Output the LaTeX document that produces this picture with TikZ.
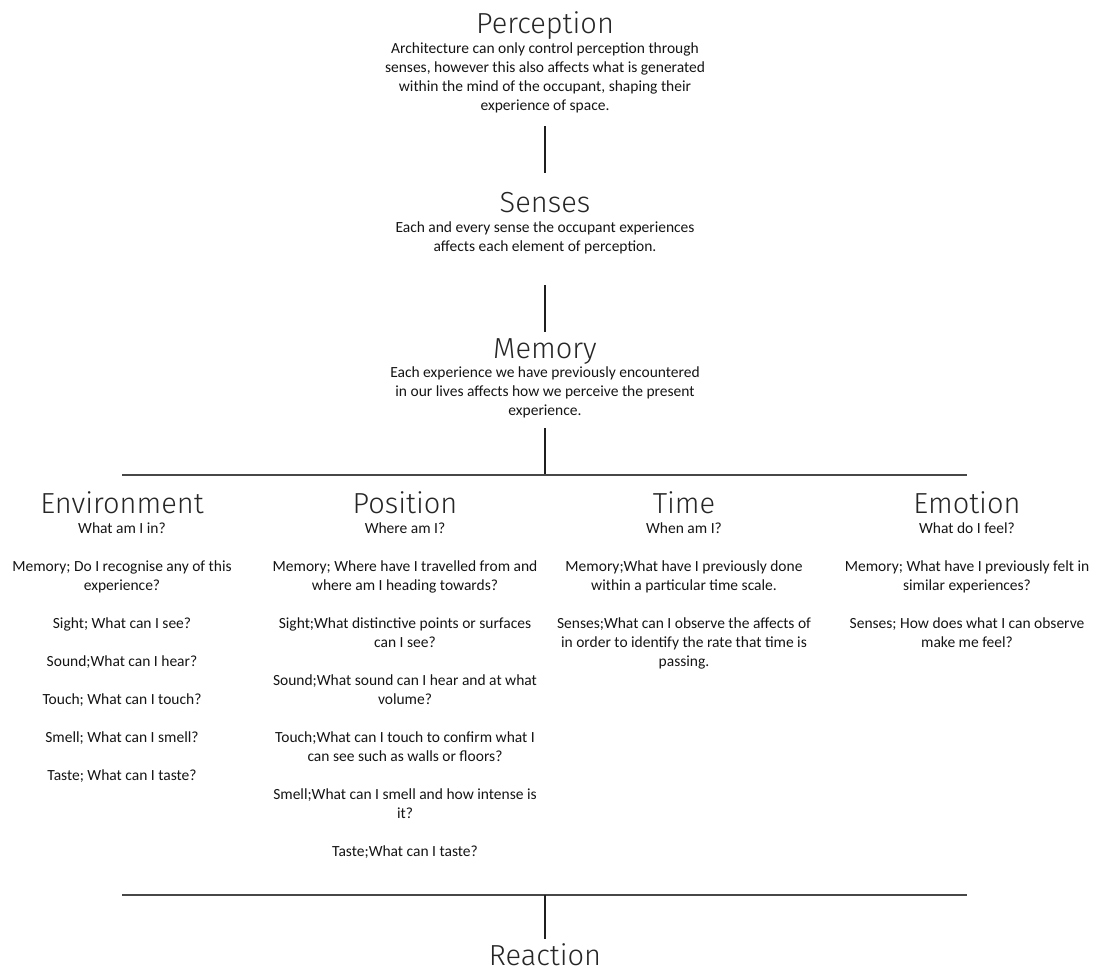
\documentclass[tikz,border=0pt]{standalone}
\usepackage{fontspec}
\setmainfont{Carlito}
\newfontfamily\titlefont{Fira Sans Light}
\begin{document}
\begin{tikzpicture}[x=1pt,y=1pt,
  ttl/.style={font=\titlefont\fontsize{29}{32}\selectfont, text=black!85, anchor=base, inner sep=0pt},
  body/.style={font=\fontsize{15.5}{19}\selectfont, align=center, anchor=north, inner sep=0pt, text=black!92},
  bar/.style={line width=2pt, draw=black!72},
  link/.style={line width=1.3pt, draw=black!88}]
\useasboundingbox (0,0) rectangle (1094,-972);
% top chain
\node[ttl] (perc) at (545,-33) {Perception};
\node[body] (percb) at (545,-39.7) {\strut Architecture can only control perception through\\senses, however this also affects what is generated\\within the mind of the occupant, shaping their\\experience of space.};
\node[ttl] (sens) at (545,-212) {Senses};
\node[body] (sensb) at (545,-218.7) {\strut Each and every sense the occupant experiences\\affects each element of perception.};
\node[ttl] (mem) at (545,-358) {Memory};
\node[body] (memb) at (545,-363.7) {\strut Each experience we have previously encountered\\in our lives affects how we perceive the present\\experience.};
% connectors
\coordinate (v1t) at (545,-126); \coordinate (v1b) at (545,-173);
\coordinate (v2t) at (545,-285); \coordinate (v2b) at (545,-332);
\coordinate (v3t) at (545,-428); \coordinate (v3b) at (545,-475);
\coordinate (barTL) at (122,-475); \coordinate (barTR) at (967,-475);
\coordinate (barBL) at (122,-895); \coordinate (barBR) at (967,-895);
\coordinate (v4t) at (545,-895); \coordinate (v4b) at (545,-939);
\draw[link] (v1t) -- (v1b);
\draw[link] (v2t) -- (v2b);
\draw[link] (v3t) -- (v3b);
\draw[bar] (barTL) -- (barTR);
\draw[bar] (barBL) -- (barBR);
\draw[link] (v4t) -- (v4b);
% columns
\node[ttl] (env) at (122,-513) {Environment};
\node[body] (envb) at (122,-519.7) {\strut What am I in?\\[19pt]Memory; Do I recognise any of this\\experience?\\[19pt]Sight; What can I see?\\[19pt]Sound;What can I hear?\\[19pt]Touch; What can I touch?\\[19pt]Smell; What can I smell?\\[19pt]Taste; What can I taste?};
\node[ttl] (pos) at (405,-513) {Position};
\node[body] (posb) at (405,-519.7) {\strut Where am I?\\[19pt]Memory; Where have I travelled from and\\where am I heading towards?\\[19pt]Sight;What distinctive points or surfaces\\can I see?\\[19pt]Sound;What sound can I hear and at what\\volume?\\[19pt]Touch;What can I touch to confirm what I\\can see such as walls or floors?\\[19pt]Smell;What can I smell and how intense is\\it?\\[19pt]Taste;What can I taste?};
\node[ttl] (time) at (684,-513) {Time};
\node[body] (timeb) at (684,-519.7) {\strut When am I?\\[19pt]Memory;What have I previously done\\within a particular time scale.\\[19pt]Senses;What can I observe the affects of\\in order to identify the rate that time is\\passing.};
\node[ttl] (emo) at (967,-513) {Emotion};
\node[body] (emob) at (967,-519.7) {\strut What do I feel?\\[19pt]Memory; What have I previously felt in\\similar experiences?\\[19pt]Senses; How does what I can observe\\make me feel?};
\node[ttl, text depth=0pt] (react) at (545,-965) {Reaction};
\end{tikzpicture}
\end{document}
